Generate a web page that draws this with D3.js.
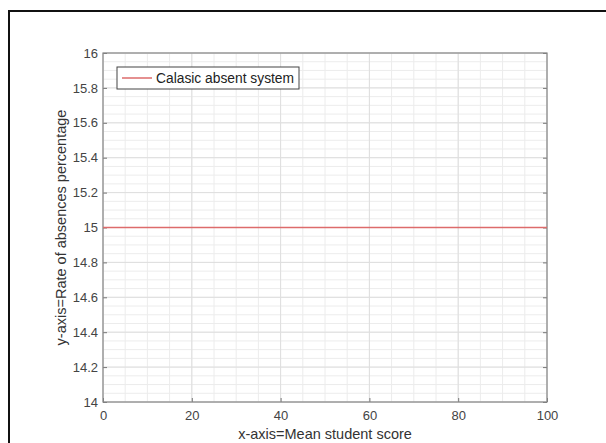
<!DOCTYPE html>
<html>
<head>
<meta charset="utf-8">
<script src="https://cdn.jsdelivr.net/npm/d3@7"></script>
<style>
  body { margin: 0; background: #fff; }
  svg text { font-family: "Liberation Sans", Arial, sans-serif; }
</style>
</head>
<body>
<svg width="606" height="443"></svg>
<script>
// data
const seriesName = 'Calasic absent system';
const xValues = [ 0, 100 ];
const yValues = [ 15, 15 ];
const xTicks = [ 0, 20, 40, 60, 80, 100 ];
const yTicks = [ 14, 14.2, 14.4, 14.6, 14.8, 15, 15.2, 15.4, 15.6, 15.8, 16 ];

const margin = { left: 103, top: 53, right: 59, bottom: 41 };
const width = 606, height = 443;
const innerWidth = width - margin.left - margin.right;
const innerHeight = height - margin.top - margin.bottom;

const svg = d3.select( 'svg' );

// outer frame (top + left visible)
svg.append( 'path' )
    .attr( 'd', `M9,${height}V11H${width}` )
    .attr( 'fill', 'none' )
    .attr( 'stroke', '#111' )
    .attr( 'stroke-width', 2 );

const xScale = d3.scaleLinear().domain( [ 0, 100 ] ).range( [ 0, innerWidth ] );
const yScale = d3.scaleLinear().domain( [ 14, 16 ] ).range( [ innerHeight, 0 ] );

const g = svg.append( 'g' )
    .attr( 'transform', `translate(${margin.left},${margin.top})` );

// minor grid
const xMinor = d3.range( 0, 101, 5 );
const yMinor = d3.range( 0, 41 ).map( i => 14 + i * 0.05 );
g.append( 'g' ).selectAll( 'line' ).data( xMinor ).enter().append( 'line' )
    .attr( 'x1', d => xScale( d ) ).attr( 'x2', d => xScale( d ) )
    .attr( 'y1', 0 ).attr( 'y2', innerHeight )
    .attr( 'stroke', '#ececec' );
g.append( 'g' ).selectAll( 'line' ).data( yMinor ).enter().append( 'line' )
    .attr( 'y1', d => yScale( d ) ).attr( 'y2', d => yScale( d ) )
    .attr( 'x1', 0 ).attr( 'x2', innerWidth )
    .attr( 'stroke', '#ececec' );

// major grid
g.append( 'g' ).selectAll( 'line' ).data( xTicks ).enter().append( 'line' )
    .attr( 'x1', d => xScale( d ) ).attr( 'x2', d => xScale( d ) )
    .attr( 'y1', 0 ).attr( 'y2', innerHeight )
    .attr( 'stroke', '#dedede' );
g.append( 'g' ).selectAll( 'line' ).data( yTicks ).enter().append( 'line' )
    .attr( 'y1', d => yScale( d ) ).attr( 'y2', d => yScale( d ) )
    .attr( 'x1', 0 ).attr( 'x2', innerWidth )
    .attr( 'stroke', '#dedede' );

// axes
const styleAxis = sel => {
    sel.select( '.domain' ).remove();
    sel.selectAll( '.tick line' ).attr( 'stroke', '#777' );
    sel.selectAll( '.tick text' ).attr( 'fill', '#444' ).style( 'font-size', '13px' );
};

g.append( 'g' )
    .attr( 'transform', `translate(0,${innerHeight})` )
    .call( d3.axisBottom( xScale ).tickValues( xTicks ).tickSize( -4 ).tickPadding( 9 ) )
    .call( styleAxis );
g.append( 'g' )
    .attr( 'transform', `translate(0,${-innerHeight})` )
    .call( d3.axisBottom( xScale ).tickValues( xTicks ).tickSize( 4 ).tickFormat( '' ) )
    .call( styleAxis );
g.append( 'g' )
    .call( d3.axisLeft( yScale ).tickValues( yTicks ).tickSize( -4 ).tickPadding( 5 ).tickFormat( d3.format( '~g' ) ) )
    .call( styleAxis );
g.append( 'g' )
    .attr( 'transform', `translate(${innerWidth},0)` )
    .call( d3.axisLeft( yScale ).tickValues( yTicks ).tickSize( 4 ).tickFormat( '' ) )
    .call( styleAxis );

// box
g.append( 'rect' )
    .attr( 'width', innerWidth ).attr( 'height', innerHeight )
    .attr( 'fill', 'none' ).attr( 'stroke', '#888' ).attr( 'stroke-width', 1.2 );

// series
const line = d3.line()
    .x( d => xScale( d[ 0 ] ) )
    .y( d => yScale( d[ 1 ] ) );
g.append( 'path' )
    .datum( xValues.map( ( x, i ) => [ x, yValues[ i ] ] ) )
    .attr( 'd', line )
    .attr( 'fill', 'none' )
    .attr( 'stroke', '#dd6b6b' )
    .attr( 'stroke-width', 1.5 );

// legend
const legend = g.append( 'g' ).attr( 'transform', 'translate(14,14)' );
legend.append( 'rect' )
    .attr( 'width', 182 ).attr( 'height', 22 )
    .attr( 'fill', '#fff' ).attr( 'stroke', '#444' );
legend.append( 'line' )
    .attr( 'x1', 5 ).attr( 'x2', 35 ).attr( 'y1', 11 ).attr( 'y2', 11 )
    .attr( 'stroke', '#dd6b6b' ).attr( 'stroke-width', 1.5 );
legend.append( 'text' )
    .attr( 'x', 39 ).attr( 'y', 16 )
    .attr( 'fill', '#222' )
    .style( 'font-size', '13.8px' )
    .text( seriesName );

// axis labels
svg.append( 'text' )
    .attr( 'x', margin.left + innerWidth / 2 ).attr( 'y', 439 )
    .attr( 'text-anchor', 'middle' ).attr( 'fill', '#333' )
    .style( 'font-size', '14.5px' )
    .text( 'x-axis=Mean student score' );
svg.append( 'text' )
    .attr( 'transform', `translate(66,${margin.top + innerHeight / 2}) rotate(-90)` )
    .attr( 'text-anchor', 'middle' ).attr( 'fill', '#333' )
    .style( 'font-size', '14.5px' )
    .text( 'y-axis=Rate of absences percentage' );
</script>
</body>
</html>
